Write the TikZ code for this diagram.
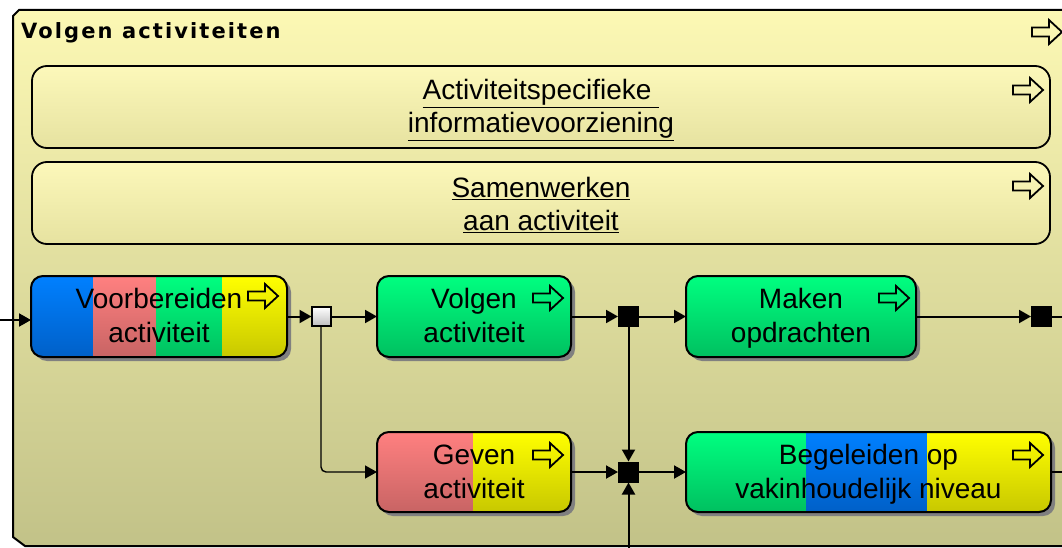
\documentclass[tikz,border=0pt]{standalone}
\usepackage{fontspec}
\setmainfont{Liberation Sans}
\newfontfamily\titlefont{DejaVu Sans}
\usetikzlibrary{arrows.meta}
\definecolor{bluetop}{RGB}{0,128,255}
\definecolor{bluebot}{RGB}{0,96,200}
\definecolor{redtop}{RGB}{255,128,128}
\definecolor{redbot}{RGB}{200,100,100}
\definecolor{greentop}{RGB}{0,255,128}
\definecolor{greenbot}{RGB}{0,192,96}
\definecolor{yellowtop}{RGB}{255,255,0}
\definecolor{yellowbot}{RGB}{200,200,0}
\definecolor{contop}{RGB}{252,248,180}
\definecolor{conbot}{RGB}{194,194,136}
\definecolor{lanetop}{RGB}{252,248,186}
\definecolor{lanebot}{RGB}{230,226,160}
\definecolor{shadowgray}{RGB}{128,128,128}
\definecolor{jngray}{RGB}{190,190,190}
\newcommand\stripe[5]{\shade[top color=#5top,bottom color=#5bot] (#1,#2) rectangle (#3,#4);}
\newcommand\procshadow[4]{\fill[shadowgray,rounded corners=12pt] (#1+4,#2+4) rectangle (#3+4,#4+4);}
\newcommand\procclip[4]{\clip[rounded corners=12pt] (#1,#2) rectangle (#3,#4);}
\newcommand\rowstrut{\rule[-8pt]{0pt}{34pt}}
\newcommand\twolines[2]{\rowstrut#1\\\rowstrut#2}
\tikzset{
  proc/.style={draw, line width=2pt, rounded corners=12pt, inner sep=0pt, outer sep=0pt,
    align=center, font=\fontsize{28}{34}\selectfont},
  lane/.style={draw, line width=1.8pt, rounded corners=15pt, inner sep=0pt, outer sep=0pt,
    top color=lanetop, bottom color=lanebot, minimum width=1018pt, minimum height=82pt},
  lanetext/.style={align=center, inner sep=0pt, font=\fontsize{28}{33}\selectfont},
  blackjn/.style={fill=black, minimum size=21pt, inner sep=0pt, outer sep=0pt},
  greyjn/.style={draw, line width=2pt, top color=white, bottom color=jngray,
    minimum size=19pt, inner sep=0pt, outer sep=0pt},
  flow/.style={line width=2pt, -{Triangle[length=12pt,width=13pt]}},
  plainline/.style={line width=2pt},
  hollowarr/.pic={\draw[line width=1.8pt, line join=miter]
     (-15,-4.5) -- (2,-4.5) -- (2,-12) -- (15,0) -- (2,12) -- (2,4.5) -- (-15,4.5) -- cycle;}
}
\begin{document}
\begin{tikzpicture}[x=1pt,y=-1pt]
\useasboundingbox (0,0) rectangle (1062,548);
\clip (0,0) rectangle (1062,548);
\fill[white] (0,0) rectangle (1062,548);
% container
\shade[top color=contop, bottom color=conbot]
  (13,16) -- (19,10) -- (1075,10) -- (1075,546) -- (25,546) -- (13,537) -- cycle;
\draw[line width=2pt]
  (13,16) -- (19,10) -- (1075,10) -- (1075,546) -- (25,546) -- (13,537) -- cycle;
\node[anchor=base west, inner sep=0pt,
  font={\titlefont\fontsize{21}{24}\selectfont\bfseries\addfontfeature{LetterSpace=10}}] (title) at (21,39) {Volgen activiteiten};
\pic at (1047,32) {hollowarr};
% lanes
\node[lane] (lane1) at (541,107) {};
\node[lanetext] (lane1text) at (541,110) {\underline{Activiteitspecifieke\ }\\\underline{informatievoorziening}};
\pic at (1028,90) {hollowarr};
\node[lane] (lane2) at (541,203) {};
\node[lanetext] (lane2text) at (541,205) {\underline{Samenwerken}\\\underline{aan activiteit}};
\pic at (1028,186) {hollowarr};
% box backgrounds
\procshadow{31}{276}{287}{357}
\procshadow{377}{276}{571}{357}
\procshadow{686}{276}{916}{357}
\procshadow{377}{432}{571}{512}
\procshadow{686}{432}{1051}{512}
\begin{scope}\procclip{31}{276}{287}{357}
  \stripe{31}{276}{93}{357}{blue}\stripe{93}{276}{156}{357}{red}
  \stripe{156}{276}{222}{357}{green}\stripe{222}{276}{287}{357}{yellow}
\end{scope}
\begin{scope}\procclip{377}{276}{571}{357}
  \stripe{377}{276}{571}{357}{green}
\end{scope}
\begin{scope}\procclip{686}{276}{916}{357}
  \stripe{686}{276}{916}{357}{green}
\end{scope}
\begin{scope}\procclip{377}{432}{571}{512}
  \stripe{377}{432}{473}{512}{red}\stripe{473}{432}{571}{512}{yellow}
\end{scope}
\begin{scope}\procclip{686}{432}{1051}{512}
  \stripe{686}{432}{806}{512}{green}\stripe{806}{432}{927}{512}{blue}
  \stripe{927}{432}{1051}{512}{yellow}
\end{scope}
% boxes
\node[proc, minimum width=256pt, minimum height=81pt] (vb) at (159,316.5) {\twolines{Voorbereiden}{activiteit}};
\node[proc, minimum width=194pt, minimum height=81pt] (vo) at (474,316.5) {\twolines{Volgen}{activiteit}};
\node[proc, minimum width=230pt, minimum height=81pt] (ma) at (801,316.5) {\twolines{Maken}{opdrachten}};
\node[proc, minimum width=194pt, minimum height=80pt] (ge) at (474,472) {\twolines{Geven}{activiteit}};
\node[proc, minimum width=365pt, minimum height=80pt] (be) at (868.5,472) {\twolines{Begeleiden op}{vakinhoudelijk niveau}};
\pic at (263,296) {hollowarr};
\pic at (548,298) {hollowarr};
\pic at (894,298) {hollowarr};
\pic at (548,455) {hollowarr};
\pic at (1028,455) {hollowarr};
% junctions
\node[greyjn] (j0) at (321,316.5) {};
\node[blackjn] (j1) at (628.5,316.5) {};
\node[blackjn] (j2) at (628.5,472) {};
\node[blackjn] (j3) at (1041.5,316.5) {};
% connectors
\coordinate (in) at (0,320);
\coordinate (bot) at (628.5,548);
\coordinate (out1) at (1062,316.5);
\coordinate (out2) at (1062,472);
\draw[flow] (in) -- (in -| vb.west);
\draw[flow] (vb.east) -- (j0.west);
\draw[flow] (j0.east) -- (vo.west);
\draw[flow, line width=1.4pt, rounded corners=5pt] (j0.south) -- (j0.south |- ge.west) -- (ge.west);
\draw[flow] (vo.east) -- (j1.west);
\draw[flow] (j1.east) -- (ma.west);
\draw[flow] (j1.south) -- (j2.north);
\draw[flow] (bot) -- (j2.south);
\draw[flow] (ge.east) -- (j2.west);
\draw[flow] (j2.east) -- (be.west);
\draw[flow] (ma.east) -- (j3.west);
\draw[plainline] (j3.east) -- (out1);
\draw[plainline] (be.east) -- (out2);
\end{tikzpicture}
\end{document}
